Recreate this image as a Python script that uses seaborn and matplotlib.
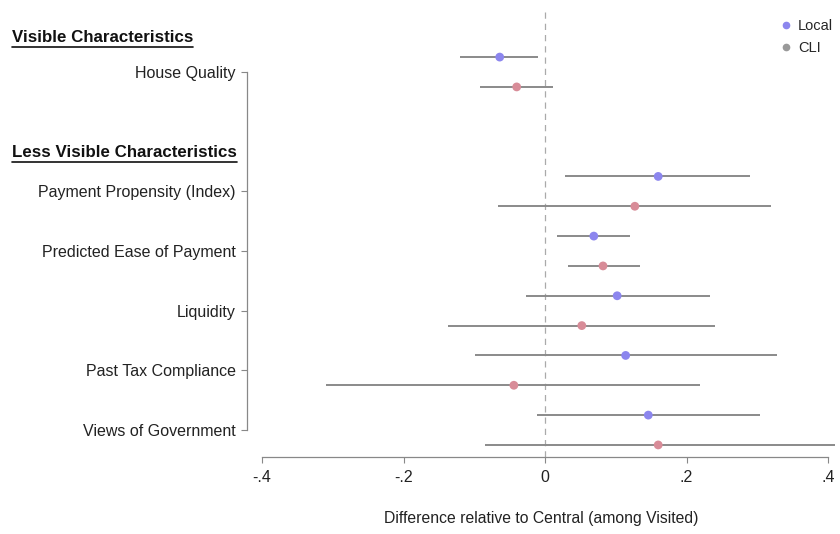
import numpy as np
import pandas as pd
import matplotlib
matplotlib.use("Agg")
import matplotlib.pyplot as plt
from matplotlib.lines import Line2D
import seaborn as sns

# ---- data ----
categories = ["House Quality", "Payment Propensity (Index)", "Predicted Ease of Payment",
              "Liquidity", "Past Tax Compliance", "Views of Government"]
cat_pos = [0, 2, 3, 4, 5, 6]
local_est = [-0.064, 0.160, 0.069, 0.102, 0.114, 0.146]
local_lo = [-0.120, 0.028, 0.017, -0.027, -0.099, -0.011]
local_hi = [-0.010, 0.290, 0.120, 0.233, 0.328, 0.304]
cli_est = [-0.040, 0.127, 0.082, 0.052, -0.044, 0.160]
cli_lo = [-0.092, -0.066, 0.033, -0.137, -0.310, -0.085]
cli_hi = [0.011, 0.320, 0.134, 0.240, 0.219, 0.410]
xticks = [-0.4, -0.2, 0, 0.2, 0.4]
xticklabels = ["-.4", "-.2", "0", ".2", ".4"]

sns.set_style("white")
plt.rcParams["font.family"] = ["Liberation Sans", "DejaVu Sans"]

W, H = 840, 534
fig = plt.figure(figsize=(W / 100, H / 100), dpi=100)
ax_l, ax_r, ax_t, ax_b = 247, 835, 10, 457
ax = fig.add_axes([ax_l / W, 1 - ax_b / H, (ax_r - ax_l) / W, (ax_b - ax_t) / H])

off = 0.25
rows = []
for c, p, e, lo, hi in zip(categories, cat_pos, local_est, local_lo, local_hi):
    rows.append(dict(cat=c, y=p - off, est=e, lo=lo, hi=hi, group="Local"))
for c, p, e, lo, hi in zip(categories, cat_pos, cli_est, cli_lo, cli_hi):
    rows.append(dict(cat=c, y=p + off, est=e, lo=lo, hi=hi, group="CLI"))
df = pd.DataFrame(rows)

ax.axvline(0, color="#aaaaaa", lw=0.9, ls=(0, (5, 4)), zorder=0)
ax.hlines(df["y"], df["lo"], df["hi"], color="#8a8a8a", lw=1.4, zorder=1)
palette = {"Local": "#8c86ee", "CLI": "#d88c98"}
sns.scatterplot(data=df, x="est", y="y", hue="group", palette=palette, s=40,
                edgecolor="none", ax=ax, legend=False, zorder=3)

# axes scaling
px_per_unit = 707.5
x0px = 545
ax.set_xlim((ax_l - x0px) / px_per_unit, (ax_r - x0px) / px_per_unit)
ystep = 59.67
ax.set_ylim((ax_b - 72) / ystep, (ax_t - 72) / ystep)

ax.set_xticks(xticks)
ax.set_xticklabels(xticklabels, fontsize=11.5, color="#222222")
ax.set_yticks(cat_pos)
ax.set_yticklabels(categories, fontsize=11.5, color="#222222")
ax.tick_params(axis="both", which="both", length=4, width=0.8, color="#888888",
               left=True, bottom=True, pad=4)
ax.tick_params(axis="x", pad=5)
ax.set_xlabel("Difference relative to Central (among Visited)", fontsize=11.3,
              color="#222222", labelpad=19)
ax.set_ylabel("")

for s in ["top", "right"]:
    ax.spines[s].set_visible(False)
ax.spines["left"].set_bounds(0, 6)
ax.spines["bottom"].set_bounds(-0.4, 0.4)
for s in ["left", "bottom"]:
    ax.spines[s].set_color("#888888")
    ax.spines[s].set_linewidth(0.9)

# headings
h1 = fig.text(12 / W, 1 - 38 / H, "Visible Characteristics", fontsize=12.2,
              fontweight="bold", ha="left", va="center", color="#111111")
h2 = fig.text(237 / W, 1 - 153 / H, "Less Visible Characteristics", fontsize=12.2,
              fontweight="bold", ha="right", va="center", color="#111111")
fig.canvas.draw()
r = fig.canvas.get_renderer()
for t in (h1, h2):
    bb = t.get_window_extent(r).transformed(fig.transFigure.inverted())
    fig.add_artist(Line2D([bb.x0, bb.x1], [bb.y0 - 0.002, bb.y0 - 0.002],
                          transform=fig.transFigure, color="#111111", lw=1.2))

# legend
handles = [Line2D([], [], marker="o", ls="none", color="#8c86ee", markersize=4.5),
           Line2D([], [], marker="o", ls="none", color="#999999", markersize=4.5)]
fig.legend(handles, ["Local", "CLI"], loc="upper right", bbox_to_anchor=(846 / W, 1 - 6 / H),
           frameon=False, fontsize=10.5, handletextpad=0.3, labelspacing=0.55,
           handlelength=1.0)

fig.savefig("out.png", dpi=100)
